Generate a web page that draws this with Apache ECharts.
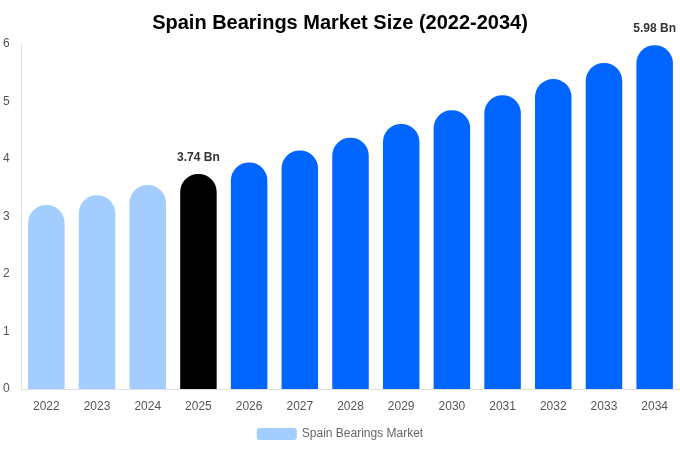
<!DOCTYPE html>
<html><head><meta charset="utf-8">
<script src="https://cdn.jsdelivr.net/npm/echarts@6/dist/echarts.min.js"></script>
<style>html,body{margin:0;padding:0;background:#fff}#c{width:680px;height:450px}</style>
</head><body><div id="c"></div>
<script>
var categories = ['2022','2023','2024','2025','2026','2027','2028','2029','2030','2031','2032','2033','2034'];
var values = [3.20, 3.37, 3.55, 3.74, 3.94, 4.15, 4.37, 4.61, 4.85, 5.11, 5.39, 5.67, 5.98];
var barColors = ['#a3cdfe','#a3cdfe','#a3cdfe','#000000','#0066ff','#0066ff','#0066ff','#0066ff','#0066ff','#0066ff','#0066ff','#0066ff','#0066ff'];
var labelled = {'2025': true, '2034': true};
var yTicks = [0,1,2,3,4,5,6];

var chart = echarts.init(document.getElementById('c'));
chart.setOption({
  animation: false,
  title: {text: 'Spain Bearings Market Size (2022-2034)', left: 'center', top: 8,
    textStyle: {fontFamily: 'Liberation Sans, Arial', fontSize: 20, fontWeight: 'bold', color: '#000'}},
  legend: {bottom: 5, left: 'center', itemWidth: 40, itemHeight: 12, itemGap: 6,
    data: [{name: 'Spain Bearings Market', itemStyle: {color: '#a3cdfe'}}],
    textStyle: {fontFamily: 'Liberation Sans, Arial', fontSize: 12, color: '#666'}},
  grid: {left: 21, right: 0, top: 44, bottom: 61},
  xAxis: {type: 'category', data: categories,
    axisLine: {lineStyle: {color: '#e0e0e0'}}, axisTick: {show: false},
    axisLabel: {color: '#555', fontSize: 12, margin: 12, fontFamily: 'Liberation Sans, Arial'}},
  yAxis: {type: 'value', min: yTicks[0], max: yTicks[yTicks.length-1], interval: 1,
    splitLine: {show: false},
    axisLine: {show: true, lineStyle: {color: '#e0e0e0'}},
    axisLabel: {color: '#555', fontSize: 12, align: 'left', margin: 18, fontFamily: 'Liberation Sans, Arial'}},
  series: [{
    name: 'Spain Bearings Market', type: 'bar', barWidth: '72%',
    data: values.map(function(v, i){
      return {value: v, itemStyle: {color: barColors[i], borderRadius: [18,18,0,0]},
        label: {show: !!labelled[categories[i]]}};
    }),
    label: {position: 'top', distance: 10, fontSize: 12, fontWeight: 'bold', color: '#333',
      fontFamily: 'Liberation Sans, Arial',
      formatter: function(p){ return p.value.toFixed(2) + ' Bn'; }}
  }]
});
</script></body></html>
